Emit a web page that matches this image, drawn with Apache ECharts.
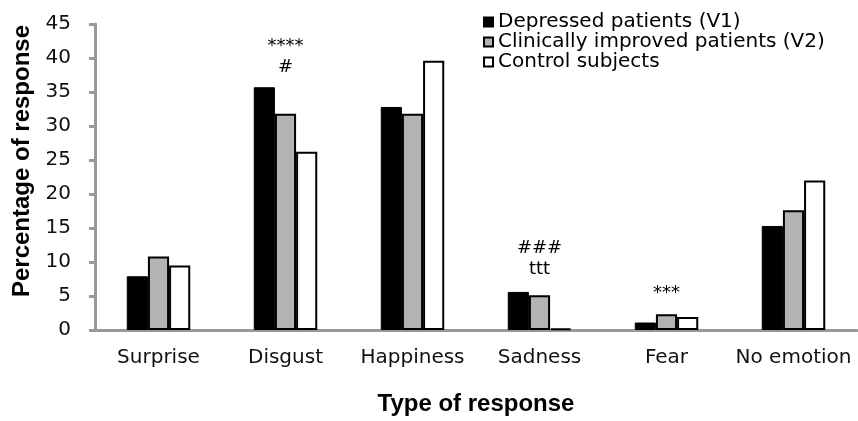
<!DOCTYPE html>
<html>
<head>
<meta charset="utf-8">
<script src="https://cdn.jsdelivr.net/npm/echarts@6/dist/echarts.min.js"></script>
<style>
html, body { margin: 0; padding: 0; background: #fff; }
#chart { width: 858px; height: 421px; }
</style>
</head>
<body>
<div id="chart"></div>
<script>
// categories and values
var categories = ['Surprise', 'Disgust', 'Happiness', 'Sadness', 'Fear', 'No emotion'];
var depressed = [7.9, 35.7, 32.8, 5.6, 1.1, 15.3];
var improved = [10.8, 31.8, 31.8, 5.1, 2.3, 17.6];
var controls = [9.5, 26.2, 39.6, 0.2, 1.9, 22.0];
// significance marks above groups
var marksText = ['', '****\n#', '', '###\nttt', '***', ''];
var marksY = [null, 40.2, null, 10.5, 5.4, null];
var yTicks = [0, 5, 10, 15, 20, 25, 30, 35, 40, 45];

var chart = echarts.init(document.getElementById('chart'));

var labelFont = 'DejaVu Sans';

var option = {
    animation: false,
    grid: { left: 95, right: 1, top: 24, bottom: 91 },
    legend: {
        orient: 'vertical',
        left: 478,
        top: 7,
        icon: 'rect',
        itemWidth: 9,
        itemHeight: 9,
        itemGap: 0,
        data: ['Depressed patients (V1)', 'Clinically improved patients (V2)', 'Control subjects'],
        textStyle: { fontFamily: labelFont, fontSize: 20, color: '#000' }
    },
    xAxis: {
        type: 'category',
        data: categories,
        name: 'Type of response',
        nameLocation: 'middle',
        nameGap: 62,
        nameTextStyle: { fontFamily: 'Liberation Sans', fontWeight: 'bold', fontSize: 24, color: '#000' },
        axisLine: { lineStyle: { color: '#999', width: 3 } },
        axisTick: { show: false },
        axisLabel: { interval: 0, fontFamily: labelFont, fontSize: 20, color: '#111', margin: 18 }
    },
    yAxis: {
        type: 'value',
        min: yTicks[0],
        max: yTicks[yTicks.length - 1],
        interval: 5,
        name: 'Percentage of response',
        nameLocation: 'middle',
        nameGap: 55,
        nameTextStyle: { fontFamily: 'Liberation Sans', fontWeight: 'bold', fontSize: 24, color: '#000', padding: [0, 0, 0, 32] },
        splitLine: { show: false },
        axisLine: { show: true, lineStyle: { color: '#999', width: 3 } },
        axisTick: { show: true, length: 6, lineStyle: { color: '#999', width: 3 } },
        axisLabel: { fontFamily: labelFont, fontSize: 20, color: '#111', margin: 24 }
    },
    series: [
        {
            name: 'Depressed patients (V1)',
            type: 'bar',
            barGap: '0%',
            barCategoryGap: '50%',
            itemStyle: { color: '#000', borderColor: '#000', borderWidth: 1 },
            data: depressed
        },
        {
            name: 'Clinically improved patients (V2)',
            type: 'bar',
            itemStyle: { color: '#b3b3b3', borderColor: '#000', borderWidth: 2 },
            data: improved
        },
        {
            name: 'Control subjects',
            type: 'bar',
            itemStyle: { color: '#fff', borderColor: '#000', borderWidth: 2 },
            data: controls
        },
        {
            name: 'marks',
            type: 'scatter',
            symbolSize: 0,
            silent: true,
            itemStyle: { opacity: 1 },
            data: marksY,
            label: {
                show: true,
                position: 'inside',
                fontFamily: labelFont,
                fontSize: 18,
                lineHeight: 21,
                color: '#000',
                opacity: 1,
                formatter: function (p) { return marksText[p.dataIndex]; }
            }
        }
    ]
};
chart.setOption(option);
</script>
</body>
</html>
